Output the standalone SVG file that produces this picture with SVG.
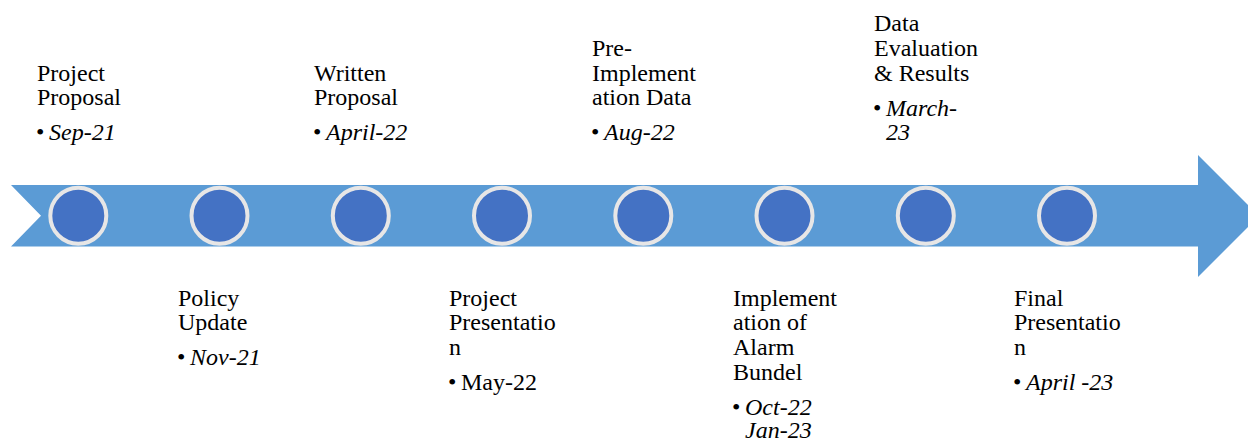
<svg xmlns="http://www.w3.org/2000/svg" width="1248" height="441" viewBox="0 0 1248 441">
<style>
text{font-family:'Liberation Serif','Times New Roman',Times,serif;font-size:24px;fill:#000}
.i{font-style:italic}
.dot{fill:#4472c4;stroke:#e7e6e6;stroke-width:4}
</style>
<rect width="1248" height="441" fill="#fff"/>
<g id="arrow">
<path d="M11,185 L1198,185 L1198,155 L1259,216 L1198,277 L1198,246.5 L11,246.5 L41,215.7 Z" fill="#5b9bd5"/>
</g>
<g id="connectors"></g>
<g id="n1"><circle class="dot" cx="78.3" cy="215.7" r="28"/>
<text><tspan x="37" y="81">Project</tspan><tspan x="37" y="105">Proposal</tspan><tspan x="36" y="140">•</tspan><tspan class="i" x="49" y="140">Sep-21</tspan></text></g>
<g id="n2"><circle class="dot" cx="219.5" cy="215.7" r="28"/>
<text><tspan x="178" y="306">Policy</tspan><tspan x="178" y="330">Update</tspan><tspan x="177" y="365">•</tspan><tspan class="i" x="190" y="365">Nov-21</tspan></text></g>
<g id="n3"><circle class="dot" cx="360.8" cy="215.7" r="28"/>
<text><tspan x="314" y="81">Written</tspan><tspan x="314" y="105">Proposal</tspan><tspan x="313" y="140">•</tspan><tspan class="i" x="326" y="140">April-22</tspan></text></g>
<g id="n4"><circle class="dot" cx="502" cy="215.7" r="28"/>
<text><tspan x="449" y="306">Project</tspan><tspan x="449" y="330">Presentatio</tspan><tspan x="449" y="355">n</tspan><tspan x="448" y="390">•</tspan><tspan x="461" y="390">May-22</tspan></text></g>
<g id="n5"><circle class="dot" cx="643.3" cy="215.7" r="28"/>
<text><tspan x="592" y="56">Pre-</tspan><tspan x="592" y="81">Implement</tspan><tspan x="592" y="105">ation Data</tspan><tspan x="591" y="140">•</tspan><tspan class="i" x="604" y="140">Aug-22</tspan></text></g>
<g id="n6"><circle class="dot" cx="784.5" cy="215.7" r="28"/>
<text><tspan x="733" y="306">Implement</tspan><tspan x="733" y="330">ation of</tspan><tspan x="733" y="355">Alarm</tspan><tspan x="733" y="380">Bundel</tspan><tspan x="732" y="415">•</tspan><tspan class="i" x="745" y="415">Oct-22</tspan></text>
<text><tspan class="i" x="745" y="438">Jan-23</tspan></text></g>
<g id="n7"><circle class="dot" cx="925.8" cy="215.7" r="28"/>
<text><tspan x="874" y="31">Data</tspan><tspan x="874" y="56">Evaluation</tspan><tspan x="874" y="81">&amp; Results</tspan><tspan x="873" y="116">•</tspan><tspan class="i" x="886" y="116">March-</tspan><tspan class="i" x="886" y="140">23</tspan></text></g>
<g id="n8"><circle class="dot" cx="1067" cy="215.7" r="28"/>
<text><tspan x="1014" y="306">Final</tspan><tspan x="1014" y="330">Presentatio</tspan><tspan x="1014" y="355">n</tspan><tspan x="1013" y="390">•</tspan><tspan class="i" x="1026" y="390">April -23</tspan></text></g>
</svg>
